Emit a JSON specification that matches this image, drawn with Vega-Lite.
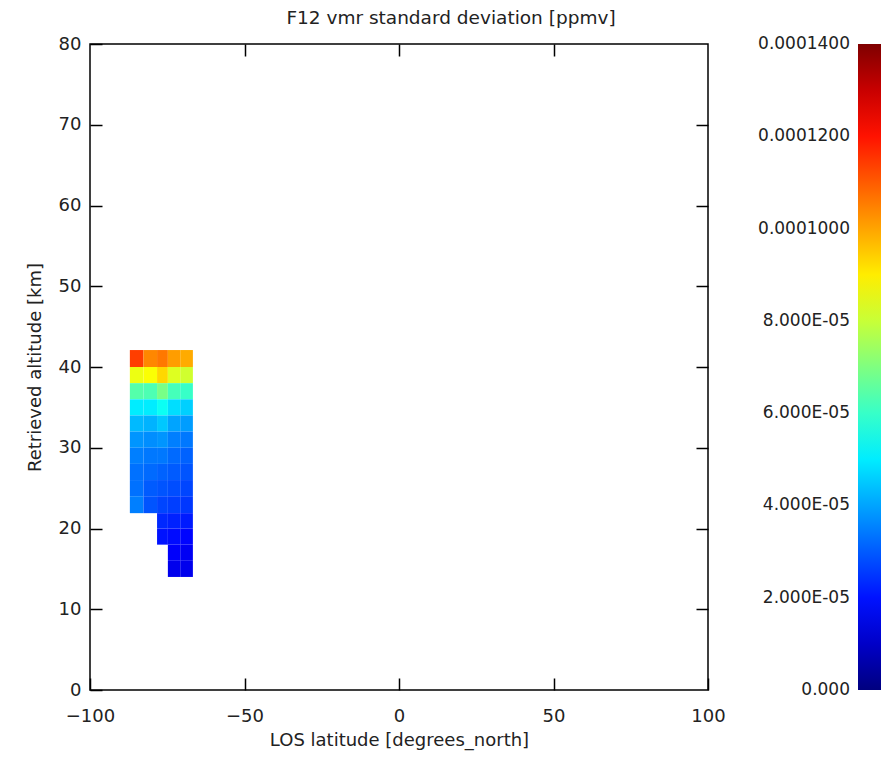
{
  "$schema": "https://vega.github.io/schema/vega-lite/v6.json",
  "autosize": "none",
  "width": 618,
  "height": 646,
  "padding": {"left": 90, "top": 44, "right": 173, "bottom": 69},
  "background": "white",
  "title": {"text": "F12 vmr standard deviation [ppmv]", "font": "DejaVu Sans", "fontSize": 18.5, "fontWeight": "normal", "color": "#222", "anchor": "middle", "dx": 52, "offset": 8},
  "data": {"values": [
    {"lat0": -87.1, "lat1": -82.7, "alt0": 40, "alt1": 42.1, "sd": 0.000114},
    {"lat0": -82.7, "lat1": -78.3, "alt0": 40, "alt1": 42.1, "sd": 0.000104},
    {"lat0": -78.3, "lat1": -74.8, "alt0": 40, "alt1": 42.1, "sd": 0.000106},
    {"lat0": -74.8, "lat1": -70.8, "alt0": 40, "alt1": 42.1, "sd": 0.000101},
    {"lat0": -70.8, "lat1": -66.7, "alt0": 40, "alt1": 42.1, "sd": 0.000099},
    {"lat0": -87.1, "lat1": -82.7, "alt0": 38, "alt1": 40, "sd": 0.000085},
    {"lat0": -82.7, "lat1": -78.3, "alt0": 38, "alt1": 40, "sd": 0.000087},
    {"lat0": -78.3, "lat1": -74.8, "alt0": 38, "alt1": 40, "sd": 0.000093},
    {"lat0": -74.8, "lat1": -70.8, "alt0": 38, "alt1": 40, "sd": 0.000083},
    {"lat0": -70.8, "lat1": -66.7, "alt0": 38, "alt1": 40, "sd": 0.000081},
    {"lat0": -87.1, "lat1": -82.7, "alt0": 36, "alt1": 38, "sd": 0.000064},
    {"lat0": -82.7, "lat1": -78.3, "alt0": 36, "alt1": 38, "sd": 0.000063},
    {"lat0": -78.3, "lat1": -74.8, "alt0": 36, "alt1": 38, "sd": 0.000069},
    {"lat0": -74.8, "lat1": -70.8, "alt0": 36, "alt1": 38, "sd": 0.000062},
    {"lat0": -70.8, "lat1": -66.7, "alt0": 36, "alt1": 38, "sd": 0.000060},
    {"lat0": -87.1, "lat1": -82.7, "alt0": 34, "alt1": 36, "sd": 0.000050},
    {"lat0": -82.7, "lat1": -78.3, "alt0": 34, "alt1": 36, "sd": 0.000050},
    {"lat0": -78.3, "lat1": -74.8, "alt0": 34, "alt1": 36, "sd": 0.000054},
    {"lat0": -74.8, "lat1": -70.8, "alt0": 34, "alt1": 36, "sd": 0.000048},
    {"lat0": -70.8, "lat1": -66.7, "alt0": 34, "alt1": 36, "sd": 0.000046},
    {"lat0": -87.1, "lat1": -82.7, "alt0": 32, "alt1": 34, "sd": 0.000043},
    {"lat0": -82.7, "lat1": -78.3, "alt0": 32, "alt1": 34, "sd": 0.000042},
    {"lat0": -78.3, "lat1": -74.8, "alt0": 32, "alt1": 34, "sd": 0.000045},
    {"lat0": -74.8, "lat1": -70.8, "alt0": 32, "alt1": 34, "sd": 0.000040},
    {"lat0": -70.8, "lat1": -66.7, "alt0": 32, "alt1": 34, "sd": 0.000039},
    {"lat0": -87.1, "lat1": -82.7, "alt0": 30, "alt1": 32, "sd": 0.000038},
    {"lat0": -82.7, "lat1": -78.3, "alt0": 30, "alt1": 32, "sd": 0.000037},
    {"lat0": -78.3, "lat1": -74.8, "alt0": 30, "alt1": 32, "sd": 0.000038},
    {"lat0": -74.8, "lat1": -70.8, "alt0": 30, "alt1": 32, "sd": 0.000035},
    {"lat0": -70.8, "lat1": -66.7, "alt0": 30, "alt1": 32, "sd": 0.000034},
    {"lat0": -87.1, "lat1": -82.7, "alt0": 28, "alt1": 30, "sd": 0.000035},
    {"lat0": -82.7, "lat1": -78.3, "alt0": 28, "alt1": 30, "sd": 0.000034},
    {"lat0": -78.3, "lat1": -74.8, "alt0": 28, "alt1": 30, "sd": 0.000034},
    {"lat0": -74.8, "lat1": -70.8, "alt0": 28, "alt1": 30, "sd": 0.000032},
    {"lat0": -70.8, "lat1": -66.7, "alt0": 28, "alt1": 30, "sd": 0.000031},
    {"lat0": -87.1, "lat1": -82.7, "alt0": 26, "alt1": 28, "sd": 0.000033},
    {"lat0": -82.7, "lat1": -78.3, "alt0": 26, "alt1": 28, "sd": 0.000032},
    {"lat0": -78.3, "lat1": -74.8, "alt0": 26, "alt1": 28, "sd": 0.000031},
    {"lat0": -74.8, "lat1": -70.8, "alt0": 26, "alt1": 28, "sd": 0.000030},
    {"lat0": -70.8, "lat1": -66.7, "alt0": 26, "alt1": 28, "sd": 0.000029},
    {"lat0": -87.1, "lat1": -82.7, "alt0": 24, "alt1": 26, "sd": 0.000033},
    {"lat0": -82.7, "lat1": -78.3, "alt0": 24, "alt1": 26, "sd": 0.000030},
    {"lat0": -78.3, "lat1": -74.8, "alt0": 24, "alt1": 26, "sd": 0.000029},
    {"lat0": -74.8, "lat1": -70.8, "alt0": 24, "alt1": 26, "sd": 0.000028},
    {"lat0": -70.8, "lat1": -66.7, "alt0": 24, "alt1": 26, "sd": 0.000027},
    {"lat0": -87.1, "lat1": -82.7, "alt0": 21.9, "alt1": 24, "sd": 0.000035},
    {"lat0": -82.7, "lat1": -78.3, "alt0": 21.9, "alt1": 24, "sd": 0.000029},
    {"lat0": -78.3, "lat1": -74.8, "alt0": 21.9, "alt1": 24, "sd": 0.000027},
    {"lat0": -74.8, "lat1": -70.8, "alt0": 21.9, "alt1": 24, "sd": 0.000026},
    {"lat0": -70.8, "lat1": -66.7, "alt0": 21.9, "alt1": 24, "sd": 0.000025},
    {"lat0": -78.3, "lat1": -74.8, "alt0": 20, "alt1": 21.9, "sd": 0.000023},
    {"lat0": -74.8, "lat1": -70.8, "alt0": 20, "alt1": 21.9, "sd": 0.000022},
    {"lat0": -70.8, "lat1": -66.7, "alt0": 20, "alt1": 21.9, "sd": 0.000021},
    {"lat0": -78.3, "lat1": -74.8, "alt0": 18, "alt1": 20, "sd": 0.000020},
    {"lat0": -74.8, "lat1": -70.8, "alt0": 18, "alt1": 20, "sd": 0.000019},
    {"lat0": -70.8, "lat1": -66.7, "alt0": 18, "alt1": 20, "sd": 0.000018},
    {"lat0": -74.8, "lat1": -70.8, "alt0": 16, "alt1": 18, "sd": 0.000017},
    {"lat0": -70.8, "lat1": -66.7, "alt0": 16, "alt1": 18, "sd": 0.000016},
    {"lat0": -74.8, "lat1": -70.8, "alt0": 14, "alt1": 16, "sd": 0.000015},
    {"lat0": -70.8, "lat1": -66.7, "alt0": 14, "alt1": 16, "sd": 0.000015}
  ]},
  "layer": [
    {
      "mark": {"type": "rect"},
      "encoding": {
        "x": {"field": "lat0", "type": "quantitative", "scale": {"domain": [-100, 100], "nice": false, "zero": false},
              "axis": {"orient": "bottom", "values": [-100, -50, 0, 50, 100], "title": "LOS latitude [degrees_north]", "domain": false, "grid": false, "labelFlush": false, "tickSize": -12, "tickWidth": 1.5, "tickColor": "black", "labelPadding": 29, "labelFontSize": 18, "labelFont": "DejaVu Sans", "labelColor": "#222", "titleFont": "DejaVu Sans", "titleFontSize": 18, "titleFontWeight": "normal", "titleColor": "#222", "titlePadding": 6}},
        "x2": {"field": "lat1"},
        "y": {"field": "alt0", "type": "quantitative", "scale": {"domain": [0, 80], "nice": false},
              "axis": {"orient": "left", "values": [0, 10, 20, 30, 40, 50, 60, 70, 80], "title": "Retrieved altitude [km]", "domain": false, "grid": false, "labelFlush": false, "tickSize": -12, "tickWidth": 1.5, "tickColor": "black", "labelPadding": 21, "labelFontSize": 18, "labelFont": "DejaVu Sans", "labelColor": "#222", "titleFont": "DejaVu Sans", "titleFontSize": 18, "titleFontWeight": "normal", "titleColor": "#222", "titlePadding": 14}},
        "y2": {"field": "alt1"},
        "color": {"field": "sd", "type": "quantitative",
                  "scale": {"type": "linear", "domain": [0, 0.0000175, 0.0000525, 0.0000875, 0.0001225, 0.00014], "range": ["#00007f", "#0000ff", "#00ffff", "#ffff00", "#ff0000", "#7f0000"], "interpolate": "rgb"},
                  "legend": {"type": "gradient", "orient": "none", "legendX": 768, "legendY": 0, "direction": "vertical", "title": null, "gradientLength": 646, "gradientThickness": 26, "gradientStrokeWidth": 0,
                             "values": [0, 0.00002, 0.00004, 0.00006, 0.00008, 0.0001, 0.00012, 0.00014],
                             "labelExpr": "datum.value < 1e-6 ? '0.000' : datum.value < 9e-5 ? format(datum.value*1e5, '.3f') + 'E-05' : '0.000' + format(datum.value*1e7, '.0f')",
                             "labelAlign": "right", "labelOffset": -34, "labelBaseline": "middle", "labelFont": "DejaVu Sans", "labelFontSize": 17, "labelColor": "#222", "labelOverlap": false,
                             "encode": {"labels": {"update": {"align": {"value": "right"}, "baseline": {"value": "middle"}}}}}}
      }
    },
    {
      "mark": {"type": "point", "opacity": 0},
      "encoding": {
        "x": {"field": "lat0", "type": "quantitative", "scale": {"domain": [-100, 100], "nice": false, "zero": false},
              "axis": {"orient": "top", "values": [-50, 0, 50], "title": null, "labels": false, "domain": false, "grid": false, "tickSize": -12, "tickWidth": 1.5, "tickColor": "black"}},
        "y": {"field": "alt0", "type": "quantitative", "scale": {"domain": [0, 80], "nice": false},
              "axis": {"orient": "right", "values": [10, 20, 30, 40, 50, 60, 70], "title": null, "labels": false, "domain": false, "grid": false, "tickSize": -12, "tickWidth": 1.5, "tickColor": "black"}}
      }
    }
  ],
  "resolve": {"axis": {"x": "independent", "y": "independent"}},
  "config": {"view": {"stroke": "black", "strokeWidth": 1.5}}
}
